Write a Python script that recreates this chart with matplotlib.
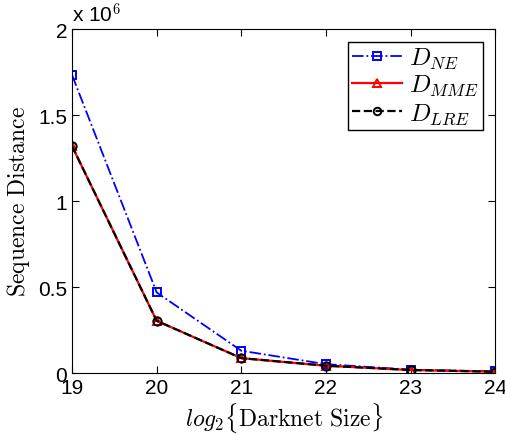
import matplotlib.pyplot as plt
from matplotlib.ticker import FuncFormatter

# darknet size (log2) and sequence distances
sizes = [19, 20, 21, 22, 23, 24]
d_ne = [1.733e6, 0.469e6, 0.130e6, 0.052e6, 0.020e6, 0.010e6]
d_mme = [1.320e6, 0.304e6, 0.087e6, 0.043e6, 0.018e6, 0.008e6]
d_lre = [1.320e6, 0.304e6, 0.087e6, 0.043e6, 0.018e6, 0.008e6]

plt.rcParams['font.family'] = ['Liberation Sans', 'DejaVu Sans']
plt.rcParams['mathtext.fontset'] = 'cm'

fig = plt.figure(figsize=(5.05, 4.35), dpi=100)
ax = fig.add_axes([0.1426, 0.140, 0.838, 0.791])

ax.plot(sizes, d_ne, color='blue', linestyle='-.', linewidth=1.3,
        marker='s', markersize=6, markerfacecolor='none', markeredgewidth=1.4,
        label=r'$D_{NE}$')
ax.plot(sizes, d_mme, color='red', linestyle='-', linewidth=1.6,
        marker='^', markersize=6, markerfacecolor='none', markeredgewidth=1.4,
        label=r'$D_{MME}$')
ax.plot(sizes, d_lre, color='black', linestyle='--', linewidth=1.6,
        marker='o', markersize=6, markerfacecolor='none', markeredgewidth=1.4,
        label=r'$D_{LRE}$')

ax.set_xlim(19, 24)
ax.set_ylim(0, 2e6)
ax.set_xticks(sizes)
ax.set_yticks([0, 0.5e6, 1e6, 1.5e6, 2e6])
ax.yaxis.set_major_formatter(FuncFormatter(lambda v, p: f'{v / 1e6:g}'))
ax.tick_params(direction='in', top=True, right=True, labelsize=15, length=5)
ax.text(0.0, 1.01, r'x 10$^{6}$', transform=ax.transAxes, fontsize=15,
        ha='left', va='bottom')

ax.set_xlabel(r'$log_2\{\mathrm{Darknet\ Size}\}$', fontsize=17, labelpad=2)
ax.set_ylabel(r'$\mathrm{Sequence\ Distance}$', fontsize=17, labelpad=4)

leg = ax.legend(loc='upper right', fontsize=18, fancybox=False,
                edgecolor='black', framealpha=1, handlelength=2.0,
                borderpad=0.15, labelspacing=0.1, handletextpad=0.3,
                markerscale=0.9)
leg.get_frame().set_linewidth(1.0)

fig.savefig('out.png', dpi=100)
